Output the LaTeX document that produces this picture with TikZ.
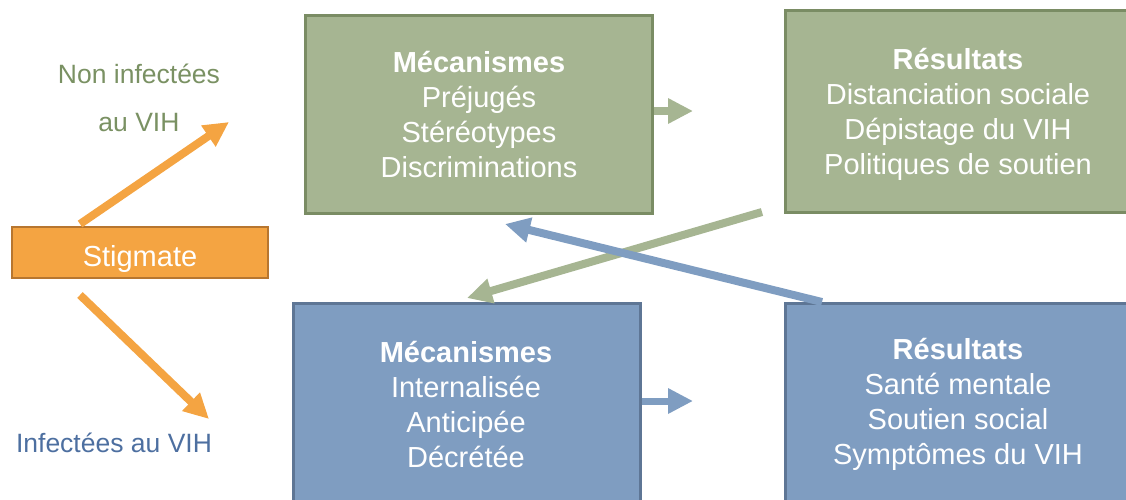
\documentclass[tikz,border=0pt]{standalone}
\usepackage{fontspec}
\setmainfont{Liberation Sans}
\usetikzlibrary{arrows.meta}
\definecolor{gfill}{RGB}{166,181,146}
\definecolor{gline}{RGB}{122,140,100}
\definecolor{bfill}{RGB}{127,157,193}
\definecolor{bline}{RGB}{94,118,149}
\definecolor{ofill}{RGB}{244,164,66}
\definecolor{oline}{RGB}{183,118,47}
\definecolor{gtext}{RGB}{122,145,99}
\definecolor{btext}{RGB}{77,111,160}
\tikzset{
  gbox/.style={draw=gline,fill=gfill,line width=3pt,inner sep=0pt},
  bbox/.style={draw=bline,fill=bfill,line width=3pt,inner sep=0pt},
  obox/.style={draw=oline,fill=ofill,line width=2.5pt,inner sep=0pt},
  boxtext/.style={text=white,align=center,font=\fontsize{29}{35}\selectfont,inner sep=0pt},
  labeltext/.style={align=center,font=\fontsize{26.5}{48}\selectfont,inner sep=0pt},
  conn/.style={line width=8pt,-{Triangle[length=25pt,width=24pt]}},
}
\begin{document}
\begin{tikzpicture}[x=1pt,y=-1pt]
\useasboundingbox (0,0) rectangle (1126,499);
\clip (0,0) rectangle (1126,499);
% boxes
\node[gbox,minimum width=347pt,minimum height=198pt] (gm) at (478.5,114) {};
\node[gbox,minimum width=342pt,minimum height=202pt] (gr) at (956,111) {};
\node[bbox,minimum width=347pt,minimum height=227pt] (bm) at (466.5,416.5) {};
\node[bbox,minimum width=342pt,minimum height=227pt] (br) at (956,416.5) {};
\node[obox,minimum width=256pt,minimum height=51pt] (stig) at (140,252.5) {};
% texts
\node[boxtext] (gmt) at (479,115) {\textbf{Mécanismes}\\Préjugés\\Stéréotypes\\Discriminations};
\node[boxtext] (grt) at (958,114) {\textbf{Résultats}\\Distanciation sociale\\Dépistage du VIH\\Politiques de soutien};
\node[boxtext] (bmt) at (466,404) {\textbf{Mécanismes}\\Internalisée\\Anticipée\\Décrétée};
\node[boxtext] (brt) at (958,404) {\textbf{Résultats}\\Santé mentale\\Soutien social\\Symptômes du VIH};
\node[boxtext] (stigt) at (140,259) {Stigmate};
\node[labeltext,text=gtext] (non) at (139,98) {Non infectées\\au VIH};
\node[labeltext,text=btext] (inf) at (114,443) {Infectées au VIH};
% free ends
\coordinate (upS) at (80,224);
\coordinate (upT) at (229,122);
\coordinate (dnS) at (80,295);
\coordinate (dnT) at (209,419);
\coordinate (gsT) at (693,111);
\coordinate (bsT) at (693,401);
\coordinate (glS) at (762,212);
\coordinate (glT) at (467,298);
\coordinate (blS) at (822,302);
\coordinate (blT) at (505,224);
% connectors
\draw[conn,draw=ofill,fill=ofill] (upS) -- (upT);
\draw[conn,draw=ofill,fill=ofill] (dnS) -- (dnT);
\draw[conn,draw=gfill,fill=gfill,line width=8pt] (gm.east |- gsT) -- (gsT);
\draw[conn,draw=bfill,fill=bfill,line width=7pt] (bm.east |- bsT) -- (bsT);
\draw[conn,draw=gfill,fill=gfill] (glS) -- (glT);
\draw[conn,draw=bfill,fill=bfill] (blS) -- (blT);
\end{tikzpicture}
\end{document}
